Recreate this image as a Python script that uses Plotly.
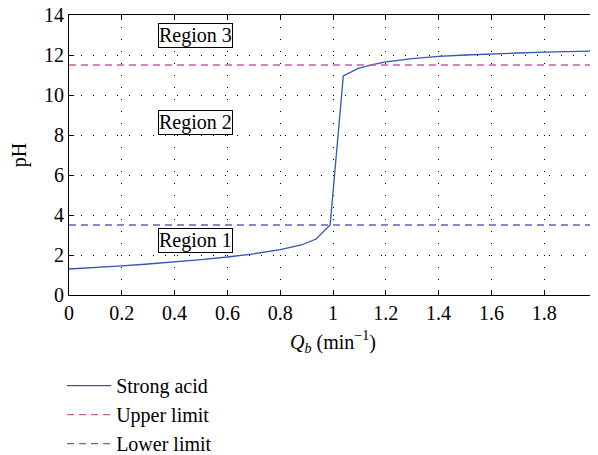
import plotly.graph_objects as go

# Data
q_b = [0, 0.1, 0.2, 0.3, 0.4, 0.5, 0.6, 0.7, 0.8, 0.88, 0.936, 0.989, 1.039, 1.096,
       1.15, 1.2, 1.3, 1.4, 1.5, 1.6, 1.7, 1.8, 1.9, 2.0]
ph_strong_acid = [1.3, 1.37, 1.46, 1.55, 1.65, 1.77, 1.9, 2.06, 2.27, 2.5, 2.8, 3.5, 10.95, 11.33,
                  11.52, 11.66, 11.82, 11.93, 12.0, 12.06, 12.1, 12.14, 12.17, 12.2]
upper_limit = 11.5
lower_limit = 3.5
x_range = [0, 2]
region_labels = ["Region 3", "Region 2", "Region 1"]
region_ph = [13.0, 8.65, 2.75]
region_q = [0.48, 0.48, 0.48]

FONT = "Liberation Serif"

fig = go.Figure()
fig.add_trace(go.Scatter(x=q_b, y=ph_strong_acid, mode="lines", name="Strong acid",
                         legendgroup="a",
                         line=dict(color="#3355b5", width=1.3)))
fig.add_trace(go.Scatter(x=x_range, y=[upper_limit, upper_limit], mode="lines", name="Upper limit",
                         legendgroup="b",
                         line=dict(color="#c060a8", width=1.3, dash="7px,5px")))
fig.add_trace(go.Scatter(x=x_range, y=[lower_limit, lower_limit], mode="lines", name="Lower limit",
                         legendgroup="c",
                         line=dict(color="#7058b8", width=1.3, dash="7px,5px")))

for lbl, yv, xv in zip(region_labels, region_ph, region_q):
    fig.add_annotation(x=xv, y=yv, text=lbl, showarrow=False,
                       font=dict(family=FONT, size=20, color="black"),
                       bgcolor="white", bordercolor="black", borderwidth=1, borderpad=0)

axis_common = dict(showline=True, linecolor="black", linewidth=1, mirror="ticks",
                   ticks="inside", ticklen=5, tickcolor="black", automargin=False,
                   ticklabeloverflow="allow",
                   showgrid=True, gridcolor="black", gridwidth=1, griddash="1px,11px",
                   zeroline=False, tickfont=dict(family=FONT, size=20, color="black"))

fig.update_xaxes(range=x_range, dtick=0.2, tick0=0,
                 title=dict(text="<i>Q</i><sub><i>b</i></sub> (min<sup>−1</sup>)",
                            font=dict(family=FONT, size=20, color="black"), standoff=11),
                 **axis_common)
fig.update_yaxes(range=[0, 14], dtick=2, tick0=0,
                 title=dict(text="pH", font=dict(family=FONT, size=20, color="black"), standoff=23),
                 **axis_common)

# The page body adds an 8 px offset, so the figure is sized to the remaining area.
fig.update_layout(
    width=590, height=460,
    margin=dict(l=61, r=1, t=7, b=173),
    plot_bgcolor="white", paper_bgcolor="white",
    showlegend=True,
    legend=dict(x=-0.013, y=-0.254, xanchor="left", yanchor="top",
                font=dict(family=FONT, size=20, color="black"),
                bgcolor="rgba(0,0,0,0)", tracegroupgap=0, itemwidth=44),
)

fig.write_html("out.html")
